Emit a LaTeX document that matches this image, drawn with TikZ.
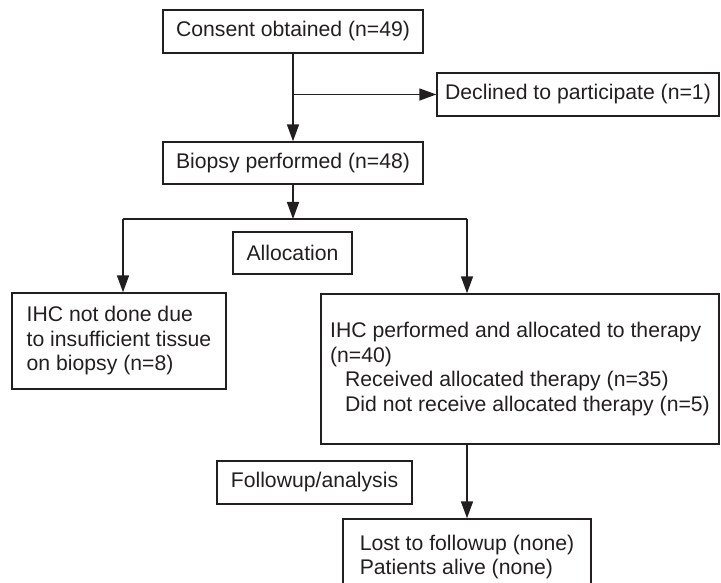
\documentclass[tikz,border=0pt]{standalone}
\usepackage{fontspec}
\setmainfont{Liberation Sans}
\usetikzlibrary{arrows.meta}
\definecolor{ink}{HTML}{231F20}
\begin{document}
\begin{tikzpicture}[x=1pt,y=-1pt,
  box/.style={draw=ink, line width=1.4pt, text=ink, inner xsep=0pt, inner ysep=0pt,
    font=\fontsize{21.2}{24.5}\selectfont},
  single/.style={box, align=center},
  multi/.style={box, align=left},
  conn/.style={draw=ink, line width=1.6pt},
  arr/.style={conn, -{Triangle[length=17pt,width=12pt]}}]
\useasboundingbox (0,0) rectangle (721,583);
\node[single, minimum width=260pt, minimum height=43pt] (consent) at (293,31.5) {Consent obtained (n=49)};
\node[single, minimum width=282pt, minimum height=43pt] (declined) at (578,94.5) {Declined to participate (n=1)};
\node[single, minimum width=260pt, minimum height=42pt] (biopsy) at (293,163) {Biopsy performed (n=48)};
\node[single, minimum width=119pt, minimum height=42pt] (alloc) at (292.5,253) {Allocation};
\node[multi, minimum width=214pt, minimum height=96pt] (ihcno) at (119,341)
  {IHC not done due\\to insufficient tissue\\on biopsy (n=8)};
\node[multi, minimum width=398pt, minimum height=150pt] (ihc) at (520,369)
  {IHC performed and allocated to therapy\\(n=40)\\\hspace*{15pt}Received allocated therapy (n=35)\\\hspace*{15pt}Did not receive allocated therapy (n=5)};
\node[single, minimum width=195pt, minimum height=43pt] (follow) at (314.5,482.5) {Followup/analysis};
\node[multi, minimum width=248pt, minimum height=76pt] (lost) at (467,557)
  {Lost to followup (none)\\Patients alive (none)};
\coordinate (jl) at (123,219);
\coordinate (jr) at (467,219);
\coordinate (jc) at (293,219);
\draw[arr] (consent.south) -- (biopsy.north);
\draw[arr] (consent.south |- declined.west) -- (declined.west);
\draw[arr] (biopsy.south) -- (jc);
\draw[conn] (jl) -- (jr);
\draw[arr] (jl) -- (jl |- ihcno.north);
\draw[arr] (jr) -- (jr |- ihc.north);
\draw[arr] (lost.north |- ihc.south) -- (lost.north);
\end{tikzpicture}
\end{document}
